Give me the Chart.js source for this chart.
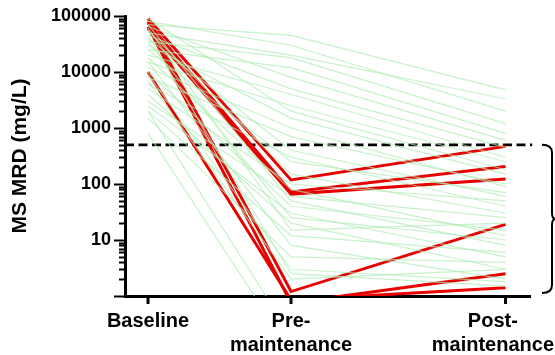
<!DOCTYPE html>
<html>
<head>
<meta charset="utf-8">
<script src="https://cdn.jsdelivr.net/npm/chart.js@4.4.1/dist/chart.umd.min.js"></script>
<style>
  html, body { margin: 0; padding: 0; background: #fff; }
  #wrap { width: 555px; height: 355px; position: relative; }
</style>
</head>
<body>
<div id="wrap"><canvas id="c" width="555" height="355"></canvas></div>
<script>
// Time points (position on the x axis) and their labels
const xPositions = [0, 1, 2.5];
const xLabels = [['Baseline'], ['Pre-', 'maintenance'], ['Post-', 'maintenance']];
const xMin = -0.161;
const xMax = 2.671;

// Y axis (log) range and labelled decades
const yMin = 1;
const yMax = 100000;
const yMajorTicks = [1, 10, 100, 1000, 10000, 100000];

// MRD threshold (mg/L)
const threshold = 500;

// Patients without relapse: [baseline, pre-maintenance, post-maintenance]
const greenSeries = [
  [70000, 45000, 4800],
  [50000, 20000, 3300],
  [80000, 30000, 2000],
  [35000, 18000, 1200],
  [25000, 12000, 800],
  [65000, 8000, 600],
  [45000, 5000, 450],
  [20000, 4000, 300],
  [15000, 2500, 250],
  [90000, 2000, 180],
  [30000, 1500, 150],
  [12000, 1000, 90],
  [8000, 700, 100],
  [40000, 400, 60],
  [6000, 300, 40],
  [25000, 250, 70],
  [55000, 150, 30],
  [5000, 100, 50],
  [18000, 80, 12],
  [3000, 60, 25],
  [70000, 50, 8],
  [10000, 40, 15],
  [2500, 30, 5],
  [35000, 25, 10],
  [4000, 20, 3],
  [60000, 15, 20],
  [2000, 12, 6],
  [15000, 8, 2],
  [1500, 5, 4],
  [9000, 3, 1.8],
  [45000, 2.5, 1.5],
  [7000, 2, 3],
  [800, 0.1, 0.1],
  [2000, 0.2, 0.5]
];

// Highlighted patients: [baseline, pre-maintenance, post-maintenance]
const redSeries = [
  [90000, 118, 470],
  [75000, 72, 205],
  [60000, 66, 123],
  [80000, 1.2, 19],
  [65000, 0.75, 2.5],
  [10000, 0.85, 1.4]
];

const GREEN = 'rgba(175, 236, 180, 0.7)';
const RED = '#e60000';

function toPoints(vals) {
  return vals.map((v, i) => ({ x: xPositions[i], y: v }));
}

const datasets = [];
greenSeries.forEach(s => datasets.push({
  data: toPoints(s), borderColor: GREEN, borderWidth: 1.2,
  pointRadius: 0, tension: 0, fill: false
}));
redSeries.forEach(s => datasets.push({
  data: toPoints(s), borderColor: RED, borderWidth: 3,
  pointRadius: 0, tension: 0, fill: false
}));
datasets.push({
  data: [{ x: xMin, y: threshold }, { x: xMax + 0.015, y: threshold }],
  borderColor: '#000', borderWidth: 2.6, borderDash: [9, 4.5],
  pointRadius: 0, fill: false, clip: false
});

// Tick marks, x-axis labels and the bracket on the right
const decorations = {
  id: 'decorations',
  afterDraw(chart) {
    const ctx = chart.ctx;
    const xs = chart.scales.x, ys = chart.scales.y;
    const area = chart.chartArea;
    ctx.save();
    ctx.strokeStyle = '#000';
    ctx.lineCap = 'butt';

    // y tick marks: long at decades, short in between
    ys.ticks.forEach(t => {
      const py = Math.round(ys.getPixelForValue(t.value)) + 0.5;
      const major = yMajorTicks.includes(t.value);
      ctx.lineWidth = 2;
      ctx.beginPath();
      ctx.moveTo(area.left - (major ? 11 : 6), py);
      ctx.lineTo(area.left, py);
      ctx.stroke();
    });

    // x tick marks
    ctx.lineWidth = 3;
    xPositions.forEach(v => {
      const px = xs.getPixelForValue(v);
      ctx.beginPath();
      ctx.moveTo(px, area.bottom);
      ctx.lineTo(px, area.bottom + 8);
      ctx.stroke();
    });

    // x labels, kept inside the canvas
    ctx.fillStyle = '#000';
    ctx.font = 'bold 20px "Liberation Sans", Arial, sans-serif';
    ctx.textAlign = 'center';
    ctx.textBaseline = 'alphabetic';
    xPositions.forEach((v, i) => {
      const lines = xLabels[i];
      const w = Math.max(...lines.map(l => ctx.measureText(l).width));
      let cx = xs.getPixelForValue(v);
      cx = Math.min(cx, chart.width - w / 2 - 1);
      lines.forEach((l, j) => ctx.fillText(l, cx, area.bottom + 31 + j * 24));
    });

    // bracket spanning threshold down to the axis
    const top = ys.getPixelForValue(threshold);
    const bottom = area.bottom - 3;
    const mid = (top + bottom) / 2;
    const x0 = 542, x1 = 552;
    ctx.lineWidth = 2;
    ctx.beginPath();
    ctx.moveTo(x0, top);
    ctx.quadraticCurveTo(x1, top, x1, top + 8);
    ctx.lineTo(x1, mid - 6);
    ctx.quadraticCurveTo(x1, mid, x1 + 4, mid);
    ctx.quadraticCurveTo(x1, mid, x1, mid + 6);
    ctx.lineTo(x1, bottom - 8);
    ctx.quadraticCurveTo(x1, bottom, x0, bottom);
    ctx.stroke();
    ctx.restore();
  }
};

new Chart(document.getElementById('c'), {
  type: 'line',
  data: { datasets },
  options: {
    responsive: false,
    animation: false,
    events: [],
    layout: { padding: { top: 16, right: 25, left: 0, bottom: 0 } },
    plugins: { legend: { display: false }, tooltip: { enabled: false } },
    scales: {
      x: {
        type: 'linear', min: xMin, max: xMax,
        grid: { display: false, drawTicks: false },
        border: { display: true, color: '#000', width: 3 },
        ticks: { display: false },
        afterFit(scale) {
          scale.height = 59;
          scale.paddingLeft = 0;
          scale.paddingRight = 0;
        }
      },
      y: {
        type: 'logarithmic', min: yMin, max: yMax,
        grid: { display: false, drawTicks: false },
        border: { display: true, color: '#000', width: 3 },
        afterBuildTicks(scale) {
          const ticks = [];
          for (let e = 0; e < 5; e++) {
            for (let m = 1; m <= 9; m++) ticks.push({ value: m * Math.pow(10, e) });
          }
          ticks.push({ value: yMax });
          scale.ticks = ticks;
        },
        ticks: {
          autoSkip: false,
          padding: 14,
          color: '#000',
          font: { family: '"Liberation Sans", Arial, sans-serif', weight: 'bold', size: 18 },
          callback: v => (yMajorTicks.includes(v) && v >= 10 ? String(v) : '')
        },
        title: {
          display: true, text: 'MS MRD (mg/L)', color: '#000',
          font: { family: '"Liberation Sans", Arial, sans-serif', weight: 'bold', size: 21 },
          padding: { top: 8, bottom: 0 }
        },
        afterFit(scale) {
          scale.width = 125;
          scale.paddingTop = 0;
          scale.paddingBottom = 0;
        }
      }
    }
  },
  plugins: [decorations]
});
</script>
</body>
</html>
